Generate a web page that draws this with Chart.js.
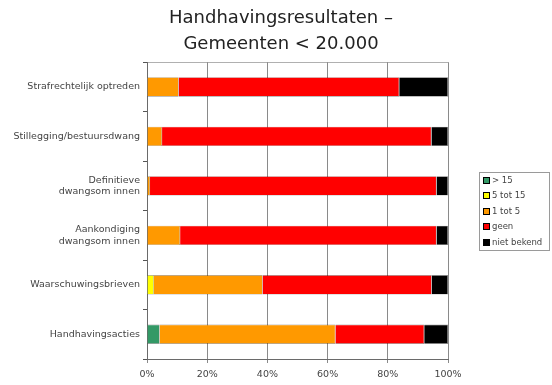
<!DOCTYPE html>
<html>
<head>
<meta charset="utf-8">
<script src="https://cdn.jsdelivr.net/npm/chart.js@4/dist/chart.umd.min.js"></script>
<style>
  html, body { margin: 0; padding: 0; background: #ffffff; }
  #wrap { width: 552px; height: 385px; }
</style>
</head>
<body>
<div id="wrap"><canvas id="c" width="552" height="385"></canvas></div>
<script>
const categories = [
  "Strafrechtelijk optreden",
  "Stillegging/bestuursdwang",
  ["Definitieve", "dwangsom innen"],
  ["Aankondiging", "dwangsom innen"],
  "Waarschuwingsbrieven",
  "Handhavingsacties"
];
const seriesNames = ["> 15", "5 tot 15", "1 tot 5", "geen", "niet bekend"];
const over15     = [0, 0, 0, 0, 0, 4.2];
const from5to15  = [0, 0, 0, 0, 2.3, 0];
const from1to5   = [10.5, 5, 1, 11, 36.1, 58.4];
const none       = [73.3, 89.5, 95.2, 85.2, 56.2, 29.5];
const unknown    = [16.2, 5.5, 3.8, 3.8, 5.4, 7.9];
const xTicks     = [0, 20, 40, 60, 80, 100];
const titleLines = ["Handhavingsresultaten \u2013", "Gemeenten < 20.000"];

const colors = ["#339966", "#ffff00", "#ff9900", "#ff0000", "#000000"];
const seriesValues = [over15, from5to15, from1to5, none, unknown];

const FONT = "'DejaVu Sans', Verdana, sans-serif";

const frameAndLegend = {
  id: 'frameAndLegend',
  beforeDraw(chart) {
    const a = chart.chartArea, ctx = chart.ctx;
    ctx.save();
    ctx.strokeStyle = '#b0b0b0';
    ctx.lineWidth = 1;
    ctx.beginPath();
    ctx.moveTo(a.left, Math.round(a.top) + 0.5);
    ctx.lineTo(a.right, Math.round(a.top) + 0.5);
    ctx.stroke();
    ctx.restore();
  },
  afterDraw(chart) {
    const ctx = chart.ctx;
    const bx = 479, by = 172, bw = 70, bh = 78;
    ctx.save();
    ctx.strokeStyle = '#9a9a9a';
    ctx.lineWidth = 1;
    ctx.strokeRect(bx + 0.5, by + 0.5, bw, bh);
    ctx.font = "8.5px " + FONT;
    ctx.textBaseline = 'middle';
    ctx.textAlign = 'left';
    chart.data.datasets.forEach((ds, i) => {
      const cy = 180 + i * 15.5;
      ctx.fillStyle = ds.backgroundColor;
      ctx.fillRect(483, Math.round(cy - 3.5), 7, 7);
      ctx.strokeStyle = '#000';
      ctx.strokeRect(483.5, Math.round(cy - 3.5) + 0.5, 6, 6);
      ctx.fillStyle = '#444';
      ctx.fillText(ds.label, 492, cy + 0.5);
    });
    ctx.restore();
  }
};

new Chart(document.getElementById('c'), {
  type: 'bar',
  data: {
    labels: categories,
    datasets: seriesNames.map((name, i) => ({
      label: name,
      data: seriesValues[i],
      backgroundColor: colors[i],
      borderColor: 'rgba(0,0,0,0.45)',
      borderWidth: 0.6,
      barPercentage: 0.49,
      categoryPercentage: 0.8,
      yAxisID: 'y',
      xAxisID: 'x'
    }))
  },
  options: {
    indexAxis: 'y',
    responsive: false,
    animation: false,
    devicePixelRatio: 1,
    layout: { padding: { left: 10, right: 0, top: 0, bottom: 0 } },
    plugins: {
      legend: { display: false },
      tooltip: { enabled: false },
      title: {
        display: true,
        text: titleLines,
        color: '#222',
        font: { family: FONT, size: 18, weight: 'normal', lineHeight: 1.45 },
        padding: { top: 5, bottom: 5 }
      }
    },
    scales: {
      x: {
        stacked: true,
        min: 0,
        max: 100,
        afterBuildTicks(scale) { scale.ticks = xTicks.map(v => ({ value: v })); },
        afterFit(scale) { scale.height = 26; },
        ticks: {
          callback: v => v + '%',
          color: '#444',
          font: { family: FONT, size: 9.5 },
          padding: 6,
          maxRotation: 0
        },
        grid: { color: '#8a8a8a', lineWidth: 1, tickLength: 4, drawTicks: true },
        border: { display: true, color: '#6a6a6a', width: 1 }
      },
      y: {
        stacked: true,
        afterFit(scale) { scale.width = 137; },
        ticks: {
          color: '#444',
          font: { family: FONT, size: 9.5 },
          padding: 3
        },
        grid: { drawOnChartArea: false, drawTicks: true, tickLength: 4, color: '#555' },
        border: { display: true, color: '#6a6a6a', width: 1 }
      },
      yr: {
        type: 'category',
        position: 'right',
        display: true,
        afterFit(scale) { scale.width = 104; },
        ticks: { display: false },
        grid: { display: false, drawTicks: false },
        border: { display: false }
      }
    }
  },
  plugins: [frameAndLegend]
});
</script>
</body>
</html>
